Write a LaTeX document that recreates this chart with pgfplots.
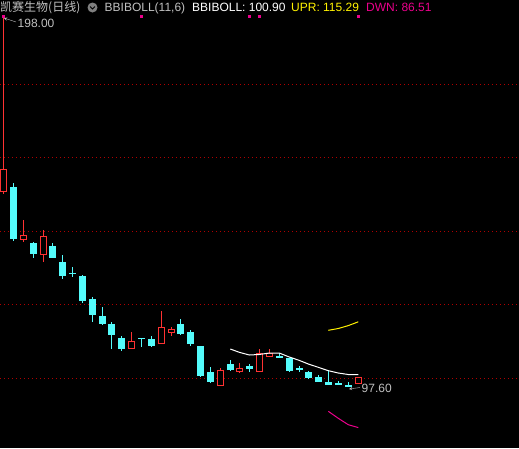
\documentclass[border=0pt]{standalone}
\usepackage{pgfplots}
\pgfplotsset{compat=1.18}
\usepackage{pgfplotstable}
\usepackage{fontspec}
\setmainfont{Liberation Sans}
\newfontfamily\cjk{Noto Sans CJK SC}

\definecolor{tdxcyan}{RGB}{84,252,252}
\definecolor{tdxred}{RGB}{255,50,50}
\definecolor{tdxgrid}{RGB}{176,0,0}
\definecolor{tdxgray}{RGB}{192,192,192}

% daily candles, x = pixel column of the bar, prices in yuan
% rising days (red, hollow)
\pgfplotstableread{
x     o      h      l      c
3.5   150.69 198.00 150.15 156.87
23.5  137.63 142.99 137.09 138.83
43.5  133.55 140.27 131.65 138.64
131.3 107.97 112.52 107.97 110.07
161.3 109.33 118.23 109.33 113.80
171.3 112.33 113.88 111.51 113.33
220.3 97.70  102.72 97.70  102.18
239.3 101.71 104.08 101.36 102.72
259.3 101.71 107.89 101.71 106.80
269.3 105.80 107.89 105.63 106.80
358.3 98.45  100.27 98.45  100.27
}\upbars
% falling days (cyan, filled)
\pgfplotstableread{
x     o      h      l      c
13.5  151.97 153.06 137.36 137.90
33.5  136.65 137.01 132.73 133.82
52.7  135.92 136.74 132.73 132.73
62.3  131.56 133.47 127.02 127.84
72.0  128.71 130.20 127.56 128.43
82.3  127.76 128.03 120.49 121.03
92.3  121.50 122.04 115.24 117.22
102.3 116.87 119.40 114.42 114.78
111.3 114.69 115.24 107.89 111.78
121.3 110.88 111.43 107.35 107.97
141.3 110.97 110.97 108.44 110.69
151.3 110.61 111.43 108.44 108.79
180.3 114.69 116.05 111.78 112.05
190.3 112.52 113.06 108.79 109.33
200.3 108.71 108.71 100.27 100.63
210.3 101.63 102.99 98.72  98.99
230.3 103.81 104.90 101.90 102.18
249.3 103.27 103.81 101.63 102.45
279.3 105.99 106.80 105.71 105.71
289.3 105.44 105.44 101.63 101.90
299.0 102.59 103.27 101.63 102.31
308.3 101.63 101.99 99.81  100.08
318.3 100.27 100.82 98.99  98.99
328.3 98.91  102.18 98.18  98.18
338.3 98.64  99.27  98.18  98.18
348.3 98.10  98.91  97.60  97.60
}\downbars

\pgfplotsset{
  candle/.style 2 args={draw=none, no markers,
    error bars/.cd, y dir=both, y explicit, error mark=none,
    error bar style={draw=#1, line width=#2, solid}},
}

\begin{document}
\begin{tikzpicture}
\begin{axis}[
  at={(0,0)}, anchor=north west,
  width=519pt, height=448pt, scale only axis,
  xmin=0, xmax=519, ymin=80.952, ymax=202.857,
  axis background/.style={fill=black},
  axis line style={draw=none},
  xtick=\empty, ytick={100,120,140,160,180}, yticklabels={},
  major tick length=0pt,
  ymajorgrids,
  grid style={tdxgrid, line width=1pt, dash pattern=on 1pt off 3pt},
]
% wicks
\addplot[candle={tdxred}{1pt}]
  table[x=x, y expr=(\thisrow{h}+\thisrow{l})/2, y error expr=(\thisrow{h}-\thisrow{l})/2] {\upbars};
\addplot[candle={tdxcyan}{1pt}]
  table[x=x, y expr=(\thisrow{h}+\thisrow{l})/2, y error expr=(\thisrow{h}-\thisrow{l})/2] {\downbars};
% bodies
\addplot[candle={tdxcyan}{7pt}]
  table[x=x, y expr=(\thisrow{o}+\thisrow{c})/2, y error expr=abs(\thisrow{o}-\thisrow{c})/2] {\downbars};
\addplot[candle={tdxred}{7pt}]
  table[x=x, y expr=(\thisrow{o}+\thisrow{c})/2, y error expr=abs(\thisrow{c}-\thisrow{o})/2] {\upbars};
\addplot[candle={black}{5pt}]
  table[x=x, y expr=(\thisrow{o}+\thisrow{c})/2, y error expr={max(abs(\thisrow{c}-\thisrow{o})/2-0.272,0)}] {\upbars};

% BBIBOLL(11,6)
\addplot[white, line width=1pt] coordinates {
  (230.3,107.89) (239.3,106.99) (249.3,106.26) (259.3,106.40) (269.3,106.80)
  (279.3,106.80) (289.3,105.71) (299.0,104.82) (308.3,103.81) (318.3,102.91)
  (328.3,101.99) (338.3,101.36) (348.3,100.95) (358.3,100.90)};
\addplot[yellow, line width=1pt] coordinates {
  (328.3,112.98) (338.3,113.47) (348.3,114.26) (358.3,115.29)};
\addplot[magenta, line width=1pt] coordinates {
  (328.3,90.94) (338.3,89.03) (348.3,87.29) (358.3,86.51)};

% event markers
\addplot[only marks, mark=square*, mark size=1pt, magenta] coordinates {
  (3,198.43) (141,198.43) (249,198.43) (259,198.43) (358,198.43)};
\end{axis}

\begin{scope}[every node/.style={anchor=base west, inner sep=0pt, font=\fontsize{12}{14}\selectfont}]
\node[text=tdxgray, font=\cjk\fontsize{12}{14}\selectfont] at (0pt,-11.7pt) {凯赛生物(日线)};
\node[text=tdxgray] at (104.5pt,-11.7pt) {BBIBOLL(11,6)};
\node[text=white] at (192pt,-11.7pt) {BBIBOLL: 100.90};
\node[text=yellow] at (291pt,-11.7pt) {UPR: 115.29};
\node[text=magenta] at (366pt,-11.7pt) {DWN: 86.51};
\node[text=tdxgray] at (17.5pt,-27.5pt) {198.00};
\node[text=tdxgray] at (361.5pt,-392.5pt) {97.60};
\end{scope}
\fill[gray] (92.5pt,-7.5pt) circle (5pt);
\draw[black, line width=1pt] (90pt,-6.5pt) -- (92.5pt,-9pt) -- (95pt,-6.5pt);
\draw[tdxgray, ->, >=stealth] (16pt,-22pt) -- (4pt,-18pt);
\draw[tdxgray, ->, >=stealth] (360pt,-387.5pt) -- (349pt,-389pt);

\pgfresetboundingbox
\path (0,0) rectangle (519pt,-448pt);
\end{tikzpicture}
\end{document}
